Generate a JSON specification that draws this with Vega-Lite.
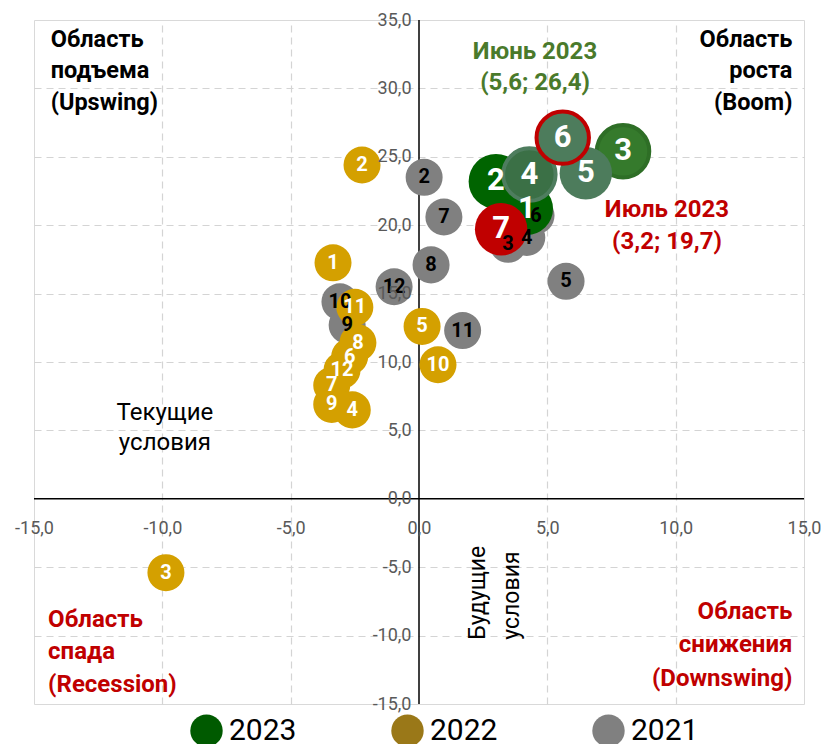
{
  "$schema": "https://vega.github.io/schema/vega-lite/v6.json",
  "width": 770,
  "height": 684,
  "autosize": "none",
  "padding": {"left": 34, "top": 20, "right": 22, "bottom": 40},
  "background": "white",
  "data": {"values": [{}]},
  "config": {
    "view": {"fill": "#f2f2f2", "stroke": "#d9d9d9", "strokeWidth": 1},
    "font": "Roboto",
    "legend": {"orient": "none", "legendX": 156, "legendY": 694, "direction": "horizontal", "symbolType": "circle", "symbolSize": 1050, "symbolOpacity": 1, "symbolStrokeWidth": 0, "labelFontSize": 30, "labelFont": "Roboto", "labelColor": "black", "labelOffset": 6, "columnPadding": 94, "padding": 0}
  },
  "datasets": {
    "pts": [
      {"year": "2021", "month": 2, "x": 0.2, "y": 23.5},
      {"year": "2021", "month": 3, "x": 3.47, "y": 18.6},
      {"year": "2021", "month": 4, "x": 4.2, "y": 19.1},
      {"year": "2021", "month": 5, "x": 5.73, "y": 15.9},
      {"year": "2021", "month": 6, "x": 4.56, "y": 20.7},
      {"year": "2021", "month": 7, "x": 0.97, "y": 20.6},
      {"year": "2021", "month": 8, "x": 0.47, "y": 17.1},
      {"year": "2021", "month": 9, "x": -2.8, "y": 12.7},
      {"year": "2021", "month": 10, "x": -3.08, "y": 14.4},
      {"year": "2021", "month": 11, "x": 1.7, "y": 12.3},
      {"year": "2021", "month": 12, "x": -0.97, "y": 15.5},
      {"year": "2022", "month": 1, "x": -3.35, "y": 17.25},
      {"year": "2022", "month": 2, "x": -2.22, "y": 24.4},
      {"year": "2022", "month": 3, "x": -9.86, "y": -5.4},
      {"year": "2022", "month": 4, "x": -2.6, "y": 6.5},
      {"year": "2022", "month": 5, "x": 0.12, "y": 12.6},
      {"year": "2022", "month": 6, "x": -2.7, "y": 10.4},
      {"year": "2022", "month": 7, "x": -3.4, "y": 8.3},
      {"year": "2022", "month": 8, "x": -2.38, "y": 11.4},
      {"year": "2022", "month": 9, "x": -3.4, "y": 6.9},
      {"year": "2022", "month": 10, "x": 0.74, "y": 9.8},
      {"year": "2022", "month": 11, "x": -2.5, "y": 14.0},
      {"year": "2022", "month": 12, "x": -3.0, "y": 9.4},
      {"year": "2023", "month": 1, "x": 4.2, "y": 21.2},
      {"year": "2023", "month": 2, "x": 3.0, "y": 23.2},
      {"year": "2023", "month": 3, "x": 7.95, "y": 25.4},
      {"year": "2023", "month": 4, "x": 4.3, "y": 23.7},
      {"year": "2023", "month": 5, "x": 6.5, "y": 23.8},
      {"year": "2023", "month": 6, "x": 5.6, "y": 26.4},
      {"year": "2023", "month": 7, "x": 3.2, "y": 19.7}
    ],
    "years": [{"year": "2023"}, {"year": "2022"}, {"year": "2021"}]
  },
  "layer": [
    {
      "mark": {"type": "rule", "color": "black", "strokeWidth": 1.5},
      "encoding": {
        "x": {"datum": 0, "type": "quantitative", "scale": {"domain": [-15, 15], "nice": false, "zero": false},
          "axis": {"orient": "bottom", "grid": true, "gridDash": [7, 5], "gridColor": "#d4d4d4", "gridWidth": 1.2, "values": [-10, -5, 5, 10], "labels": false, "ticks": false, "domain": false, "title": null}}
      }
    },
    {
      "mark": {"type": "rule", "color": "black", "strokeWidth": 1.5},
      "encoding": {
        "y": {"datum": 0, "type": "quantitative", "scale": {"domain": [-15, 35], "nice": false, "zero": false},
          "axis": {"orient": "left", "grid": true, "gridDash": [7, 5], "gridColor": "#d4d4d4", "gridWidth": 1.2, "values": [-10, -5, 5, 10, 15, 20, 25, 30], "labels": false, "ticks": false, "domain": false, "title": null}}
      }
    },
    {
      "data": {"name": "years"},
      "mark": {"type": "point", "filled": true, "opacity": 0},
      "encoding": {
        "color": {"field": "year", "type": "nominal", "sort": ["2023", "2022", "2021"], "scale": {"domain": ["2023", "2022", "2021"], "range": ["#005a00", "#9a7818", "#808080"]}, "legend": {"title": null}}
      }
    },
    {
      "data": {"name": "pts"},
      "mark": {"type": "circle", "opacity": 1},
      "encoding": {
        "x": {"field": "x", "type": "quantitative", "axis": null},
        "y": {"field": "y", "type": "quantitative", "axis": null},
        "size": {"condition": [
            {"test": "datum.year == '2023' && datum.month == 2", "value": 3000},
            {"test": "datum.year == '2023'", "value": 2750}
          ], "value": 1370},
        "fill": {"field": "year", "type": "nominal", "scale": {"domain": ["2021", "2022", "2023"], "range": ["#808080", "#d4a000", "#006400"]}, "legend": null,
          "condition": [
            {"test": "datum.year == '2023' && datum.month == 7", "value": "#c00000"},
            {"test": "datum.year == '2023' && datum.month == 3", "value": "#357a2c"},
            {"test": "datum.year == '2023' && datum.month == 4", "value": "#3b7046"},
            {"test": "datum.year == '2023' && (datum.month == 5 || datum.month == 6)", "value": "#4d7c5c"}
          ]},
        "stroke": {"condition": [
            {"test": "datum.year == '2023' && datum.month == 6", "value": "#c00000"},
            {"test": "datum.year == '2023' && datum.month == 3", "value": "#2e6e26"},
            {"test": "datum.year == '2023' && datum.month == 4", "value": "#4e7d5e"}
          ], "value": null},
        "strokeWidth": {"value": 4}
      }
    },
    {
      "data": {"name": "pts"},
      "mark": {"type": "text", "fontWeight": "bold", "align": "center", "baseline": "middle", "font": "Roboto"},
      "encoding": {
        "x": {"field": "x", "type": "quantitative", "axis": {"orient": "bottom", "offset": -205, "values": [-15, -10, -5, 0, 5, 10, 15], "labelExpr": "datum.value + ',0'", "grid": false, "ticks": false, "domain": false, "labelPadding": 20, "labelFontSize": 18, "labelColor": "#595959", "labelFont": "Roboto", "labelFlush": false, "labelOverlap": false, "title": null, "zindex": 1}},
        "y": {"field": "y", "type": "quantitative", "axis": {"orient": "left", "offset": -385, "values": [-15, -10, -5, 0, 5, 10, 15, 20, 25, 30, 35], "labelExpr": "datum.value + ',0'", "grid": false, "ticks": false, "domain": false, "labelPadding": 8, "labelFontSize": 18, "labelColor": "#595959", "labelFont": "Roboto", "labelFlush": false, "labelOverlap": false, "title": null, "zindex": 1}},
        "text": {"field": "month", "type": "nominal"},
        "color": {"condition": {"test": "datum.year == '2021'", "value": "black"}, "value": "white"},
        "size": {"condition": {"test": "datum.year == '2023'", "value": 31}, "value": 20}
      }
    },
    {
      "mark": {"type": "text", "text": ["Область", "подъема", "(Upswing)"], "align": "left", "baseline": "middle", "fontWeight": "bold", "fontSize": 23.5, "lineHeight": 31.5, "color": "black"},
      "encoding": {"x": {"datum": -14.35, "axis": null}, "y": {"datum": 33.55, "axis": null}}
    },
    {
      "mark": {"type": "text", "text": ["Область", "роста", "(Boom)"], "align": "right", "baseline": "middle", "fontWeight": "bold", "fontSize": 23.5, "lineHeight": 31.5, "color": "black"},
      "encoding": {"x": {"datum": 14.55, "axis": null}, "y": {"datum": 33.55, "axis": null}}
    },
    {
      "mark": {"type": "text", "text": ["Июнь 2023", "(5,6; 26,4)"], "align": "center", "baseline": "middle", "fontWeight": "bold", "fontSize": 24, "lineHeight": 31, "color": "#4a7a2b"},
      "encoding": {"x": {"datum": 4.52, "axis": null}, "y": {"datum": 32.68, "axis": null}}
    },
    {
      "mark": {"type": "text", "text": ["Июль 2023", "(3,2; 19,7)"], "align": "center", "baseline": "middle", "fontWeight": "bold", "fontSize": 24, "lineHeight": 32, "color": "#c00000"},
      "encoding": {"x": {"datum": 9.66, "axis": null}, "y": {"datum": 21.13, "axis": null}}
    },
    {
      "mark": {"type": "text", "text": ["Текущие", "условия"], "align": "center", "baseline": "middle", "fontSize": 24, "lineHeight": 30, "color": "black"},
      "encoding": {"x": {"datum": -9.9, "axis": null}, "y": {"datum": 6.29, "axis": null}}
    },
    {
      "mark": {"type": "text", "text": ["Будущие", "условия"], "align": "left", "baseline": "middle", "angle": 270, "fontSize": 23, "lineHeight": 34, "color": "black"},
      "encoding": {"x": {"datum": 2.3, "axis": null}, "y": {"datum": -10.3, "axis": null}}
    },
    {
      "mark": {"type": "text", "text": ["Область", "спада", "(Recession)"], "align": "left", "baseline": "middle", "fontWeight": "bold", "fontSize": 24, "lineHeight": 32.5, "color": "#c00000"},
      "encoding": {"x": {"datum": -14.45, "axis": null}, "y": {"datum": -8.85, "axis": null}}
    },
    {
      "mark": {"type": "text", "text": ["Область", "снижения", "(Downswing)"], "align": "right", "baseline": "middle", "fontWeight": "bold", "fontSize": 24, "lineHeight": 33.5, "color": "#c00000"},
      "encoding": {"x": {"datum": 14.55, "axis": null}, "y": {"datum": -8.26, "axis": null}}
    }
  ],
  "resolve": {"axis": {"x": "independent", "y": "independent"}}
}
